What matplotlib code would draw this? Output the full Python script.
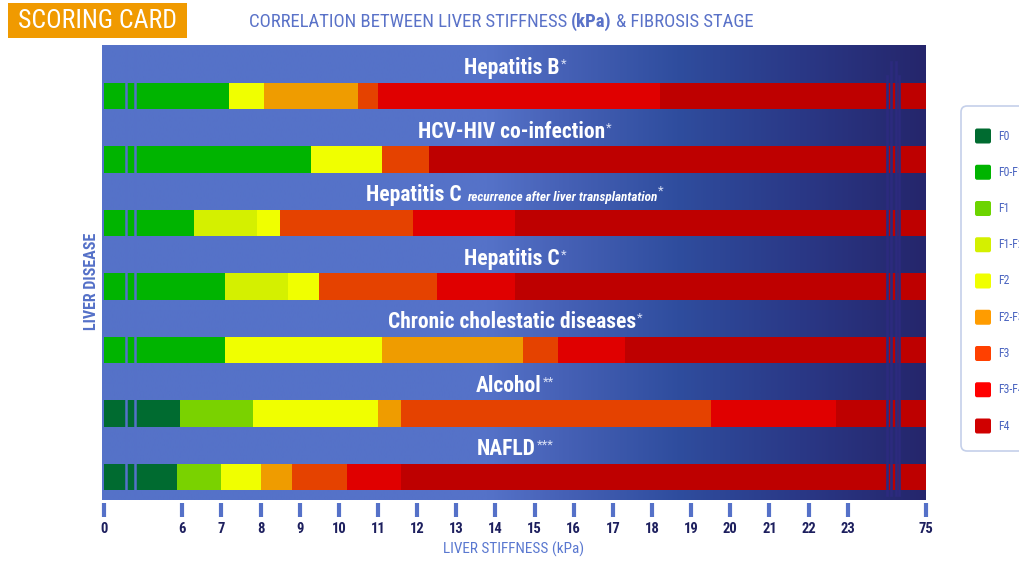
import numpy as np
import matplotlib
matplotlib.use("Agg")
import matplotlib.pyplot as plt
import matplotlib.transforms as mtransforms
from matplotlib import font_manager as fm
from matplotlib.colors import LinearSegmentedColormap
from matplotlib.patches import Rectangle, FancyBboxPatch

# ---------------- data ----------------
diseases = ["Hepatitis B", "HCV-HIV co-infection", "Hepatitis C", "Hepatitis C",
            "Chronic cholestatic diseases", "Alcohol", "NAFLD"]
disease_notes = ["", "", "recurrence after liver transplantation", "", "", "", ""]
disease_stars = ["*", "*", "*", "*", "*", "**", "***"]

hepb_stages = ["F0-F1", "F2", "F2-F3", "F3", "F3-F4", "F4"]
hepb_cuts = [7.2, 8.1, 10.5, 11.0, 18.2, 75]
hcvhiv_stages = ["F0-F1", "F2", "F3", "F4"]
hcvhiv_cuts = [9.3, 11.1, 12.3, 75]
hcvrec_stages = ["F0-F1", "F1-F2", "F2", "F3", "F3-F4", "F4"]
hcvrec_cuts = [6.3, 7.9, 8.5, 11.9, 14.5, 75]
hepc_stages = ["F0-F1", "F1-F2", "F2", "F3", "F3-F4", "F4"]
hepc_cuts = [7.1, 8.7, 9.5, 12.5, 14.5, 75]
chol_stages = ["F0-F1", "F2", "F2-F3", "F3", "F3-F4", "F4"]
chol_cuts = [7.1, 11.1, 14.7, 15.6, 17.3, 75]
alc_stages = ["F0", "F1", "F2", "F2-F3", "F3", "F3-F4", "F4"]
alc_cuts = [5.8, 7.8, 11.0, 11.6, 19.5, 22.7, 75]
nafld_stages = ["F0", "F1", "F2", "F2-F3", "F3", "F3-F4", "F4"]
nafld_cuts = [5.6, 7.0, 8.0, 8.8, 10.2, 11.6, 75]

row_stages = [hepb_stages, hcvhiv_stages, hcvrec_stages, hepc_stages,
              chol_stages, alc_stages, nafld_stages]
row_cuts = [hepb_cuts, hcvhiv_cuts, hcvrec_cuts, hepc_cuts,
            chol_cuts, alc_cuts, nafld_cuts]

legend_stages = ["F0", "F0-F1", "F1", "F1-F2", "F2", "F2-F3", "F3", "F3-F4", "F4"]
tick_values = [0, 6, 7, 8, 9, 10, 11, 12, 13, 14, 15, 16, 17, 18, 19, 20, 21, 22, 23, 75]
left_breaks_kpa = [1.72, 2.38]
right_breaks_kpa = [49.3, 51.6, 54.8, 57.1]

# ---------------- style ----------------
bar_colors = {"F0": "#006b30", "F0-F1": "#00b400", "F1": "#7ad200", "F1-F2": "#d4f000",
              "F2": "#f0ff00", "F2-F3": "#ef9c00", "F3": "#e54200", "F3-F4": "#e00000",
              "F4": "#be0000"}
legend_colors = {"F0": "#006b30", "F0-F1": "#00b400", "F1": "#6cd400", "F1-F2": "#d4f000",
                 "F2": "#f0ff00", "F2-F3": "#ff9c00", "F3": "#ff4000", "F3-F4": "#ff0000",
                 "F4": "#d00000"}
BLUE = "#5571c8"

available = {f.name for f in fm.fontManager.ttflist}


def pick(*names):
    for n in names:
        if n in available:
            return n
    return "DejaVu Sans"


NARROW = pick("Liberation Sans Narrow", "DejaVu Sans Condensed", "Roboto Condensed",
              "Open Sans Condensed", "Liberation Sans")

W, H = 1019, 563
fig = plt.figure(figsize=(W / 100, H / 100), dpi=100)
fig.patch.set_facecolor("white")


def fx(px):
    return px / W


def fy(py):
    return 1 - py / H


# piecewise kPa scale
def fwd(v):
    v = np.asarray(v, dtype=float)
    return np.where(v < 6, v / 3.0, np.where(v <= 23, v - 4.0, 19 + (v - 23) / 26.0))


def inv(p):
    p = np.asarray(p, dtype=float)
    return np.where(p < 2, p * 3.0, np.where(p <= 19, p + 4.0, 23 + (p - 19) * 26.0))


AX_L, AX_R, AX_T, PANEL_B, AX_B = 104, 926, 45, 500, 503
ROW_PITCH = 63.5
AX_HPX = AX_B - AX_T

# background gradient panel
bg = fig.add_axes([fx(102), fy(PANEL_B), fx(926 - 102), (PANEL_B - AX_T) / H])
bg.set_axis_off()
cmap = LinearSegmentedColormap.from_list("panel", [
    (0.0, "#5572c8"), (0.47, "#5572c8"), (0.56, "#4661b6"), (0.70, "#2f4d9e"),
    (0.85, "#2a3886"), (1.0, "#25266c")])
bg.imshow(np.linspace(0, 1, 600)[None, :], cmap=cmap, aspect="auto",
          extent=(0, 1, 0, 1), interpolation="bilinear")
bg.set_xlim(0, 1)
bg.set_ylim(0, 1)

# main axes
ax = fig.add_axes([fx(AX_L), fy(AX_B), fx(AX_R - AX_L), AX_HPX / H])
ax.set_facecolor("none")
ax.set_xscale("function", functions=(fwd, inv))
ax.set_xlim(0, 75)
top_units = (96 - AX_T) / ROW_PITCH
bot_units = (AX_B - 477) / ROW_PITCH
ax.set_ylim(6 + bot_units, -top_units)
for s in ax.spines.values():
    s.set_visible(False)
ax.set_yticks([])

for i, (stages, cuts) in enumerate(zip(row_stages, row_cuts)):
    left = 0
    for st, c in zip(stages, cuts):
        ax.barh(i, c - left, left=left, height=0.42, color=bar_colors[st],
                linewidth=0, zorder=2)
        left = c

ax.set_xticks(tick_values)
ax.set_xticklabels([str(t) for t in tick_values])
ax.tick_params(axis="x", direction="out", length=10, width=3, color=BLUE, pad=4,
               labelsize=10.5, labelcolor="#1d1f5e")
for lab in ax.get_xticklabels():
    lab.set_fontfamily(NARROW)
    lab.set_fontweight("bold")
ax.xaxis.set_minor_locator(matplotlib.ticker.NullLocator())

# break marks
for v in left_breaks_kpa:
    ax.axvline(v, ymin=(AX_B - 494) / AX_HPX, ymax=0.99, color=BLUE, lw=1.8, zorder=3)
for k, v in enumerate(right_breaks_kpa):
    ytop = 0.963 if k in (1, 2) else 0.932
    ax.axvline(v, ymin=(AX_B - 495) / AX_HPX, ymax=ytop, color="#2c2a7e", lw=1.9, zorder=3)

renderer = fig.canvas.get_renderer()


def rich_text(x, y, trans, pieces):
    """pieces: (text, kwargs, gap_before_px, dy_px)"""
    texts = []
    for s, kw, gap, dy in pieces:
        t = fig.text(x, y, s, transform=trans, ha="left", va="baseline", **kw)
        texts.append((t, gap, dy))
    widths = [t.get_window_extent(renderer).width for t, _, _ in texts]
    total = sum(widths) + sum(g for _, g, _ in texts)
    cum = -total / 2
    for (t, gap, dy), w in zip(texts, widths):
        cum += gap
        t.set_transform(mtransforms.offset_copy(trans, fig=fig, x=cum, y=dy, units="dots"))
        cum += w
    return texts


row_trans = mtransforms.blended_transform_factory(ax.transAxes, ax.transData)
for i, (name, note, star) in enumerate(zip(diseases, disease_notes, disease_stars)):
    pieces = [(name, dict(fontfamily=NARROW, fontweight="bold", fontsize=15.5, color="white"), 0, 0)]
    if note:
        pieces.append((note, dict(fontfamily=NARROW, fontweight="bold", fontstyle="italic",
                                  fontsize=9.5, color="white"), 5, 0))
    pieces.append((star, dict(fontfamily=NARROW, fontsize=9.5, color="#d8dff5"), 1, 6))
    rich_text(0.5, i - 0.345, row_trans, pieces)

# header
fig.patches.append(Rectangle((fx(8), fy(38)), fx(187 - 8), (38 - 3) / H,
                             transform=fig.transFigure, facecolor="#f09a00",
                             edgecolor="none"))
fig.text(fx(97), fy(21), "SCORING CARD", color="white", fontfamily=NARROW,
         fontsize=18.5, ha="center", va="center")
title_kw = dict(fontfamily=NARROW, fontsize=13.5, color="#5a72c8")
rich_text(fx(501), fy(27), fig.transFigure, [
    ("CORRELATION BETWEEN LIVER STIFFNESS", title_kw, 0, 0),
    ("(kPa)", dict(title_kw, fontweight="bold"), 4, 0),
    ("& FIBROSIS STAGE", title_kw, 4, 0)])

# axis labels
fig.text(fx(92), fy(281), "LIVER DISEASE", rotation=90, ha="center", va="center",
         fontfamily=NARROW, fontweight="bold", fontsize=11.5, color=BLUE)
fig.text(fx(514), fy(549), "LIVER STIFFNESS (kPa)", ha="center", va="center",
         fontfamily=NARROW, fontsize=11, color="#5a78d0")

# legend (partly cut off at right edge, as in the reference)
fig.patches.append(FancyBboxPatch((fx(961), fy(451)), fx(120), (451 - 106) / H,
                                  boxstyle="round,pad=0,rounding_size=0.006",
                                  mutation_aspect=W / H, transform=fig.transFigure,
                                  facecolor="white", edgecolor="#c5d0ea", lw=1.2))
for k, st in enumerate(legend_stages):
    cy = 136 + k * 36.25
    fig.patches.append(FancyBboxPatch((fx(975), fy(cy + 7.5)), fx(16), 15 / H,
                                      boxstyle="round,pad=0,rounding_size=0.002",
                                      mutation_aspect=W / H, transform=fig.transFigure,
                                      facecolor=legend_colors[st], edgecolor="none"))
    fig.text(fx(998), fy(cy), st, ha="left", va="center", fontfamily=NARROW,
             fontsize=8.5, color="#4a64c0")

fig.savefig("out.png", dpi=100)
